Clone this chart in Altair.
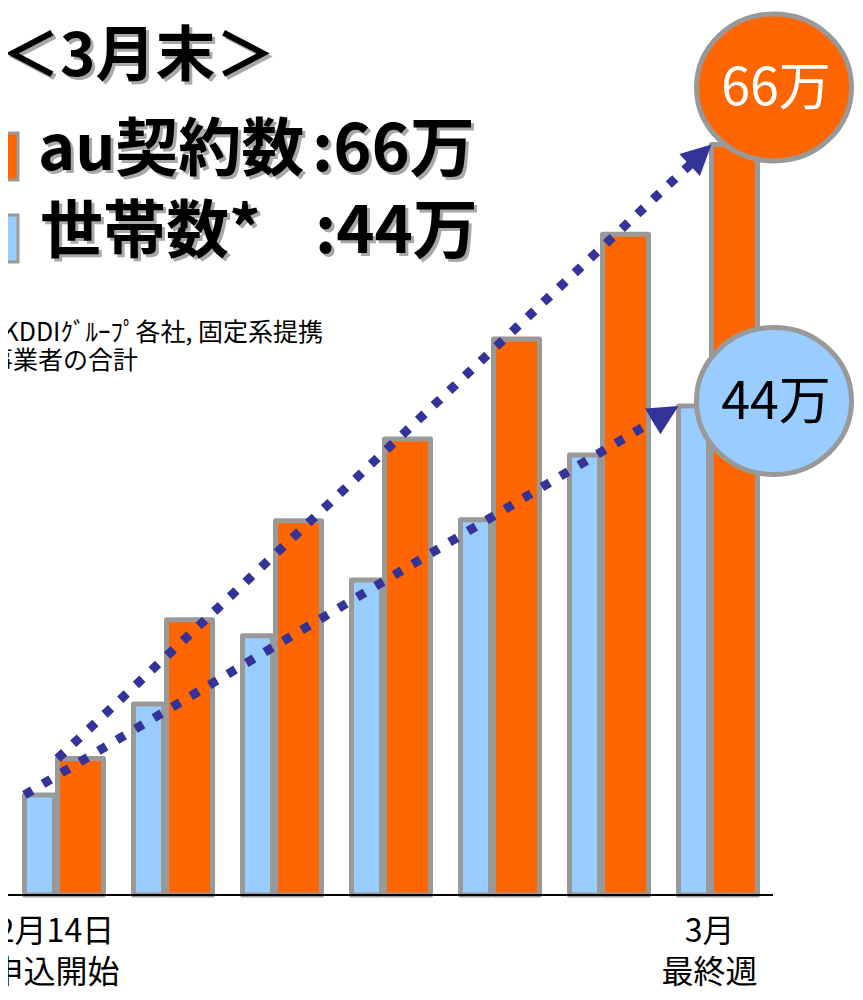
import altair as alt
import pandas as pd

# ---------------- data ----------------
weeks = [0, 1, 2, 3, 4, 5, 6]
au_contracts = [12.0, 24.2, 32.9, 40.1, 48.9, 58.1, 66.0]   # 万
households = [8.8, 16.8, 22.8, 27.7, 33.0, 38.7, 43.0]      # 万
x_label_weeks = [0, 6]
x_label_texts = ["2月14日\n申込開始", "3月\n最終週"]
title_text = "＜3月末＞"
legend_names = ["au契約数", "世帯数*"]
legend_values = [":66万", ":44万"]
callouts = ["66万", "44万"]
footnote = ["*KDDIｸﾞﾙｰﾌﾟ各社, 固定系提携", "事業者の合計"]

# ---------------- styling ----------------
ORANGE = "#FF6600"
BLUE = "#99CCFF"
GRAY = "#999999"
NAVY = "#333399"
SHADOW = "#A8A8A8"
FONT = "Noto Sans CJK JP"

k = 0.5523
r = 0.948
ELLIPSE = (f"M1,0C1,{k*r:.4f} {k},{r} 0,{r}C{-k},{r} -1,{k*r:.4f} -1,0"
           f"C-1,{-k*r:.4f} {-k},{-r} 0,{-r}C{k},{-r} 1,{-k*r:.4f} 1,0Z")
TRI = "M0,0L-1,2L1,2Z"

xs = alt.Scale(domain=[-0.5, 6.5], range=[-2, 761], nice=False, zero=False, padding=0)
ys = alt.Scale(domain=[0, 78], nice=False, zero=True, padding=0)

df = pd.DataFrame({"week": weeks, "au": au_contracts, "hh": households})
X = alt.X("week:Q", scale=xs, axis=None)

blue_bars = alt.Chart(df).mark_bar(
    width=30, xOffset=-21, color=BLUE, stroke=GRAY, strokeWidth=5, strokeJoin="round"
).encode(x=X, y=alt.Y("hh:Q", scale=ys, axis=None))

orange_bars = alt.Chart(df).mark_bar(
    width=46, xOffset=20, color=ORANGE, stroke=GRAY, strokeWidth=5, strokeJoin="round"
).encode(x=X, y=alt.Y("au:Q", scale=ys, axis=None))

baseline = alt.Chart(pd.DataFrame({"v": [0]})).mark_rule(color="black", strokeWidth=2).encode(
    y=alt.Y("v:Q", scale=ys, axis=None), x=alt.value(0), x2=alt.value(765)
)

def arrow(values, off, angle, back_dx, back_dy):
    a = pd.DataFrame({"x0": [weeks[0]], "v0": [values[0]], "x1": [weeks[-1]], "v1": [values[-1]]})
    line = alt.Chart(a).mark_rule(
        color=NAVY, strokeWidth=9, strokeDash=[9, 12.5], strokeCap="butt",
        xOffset=off, x2Offset=off + back_dx, y2Offset=back_dy
    ).encode(
        x=alt.X("x0:Q", scale=xs, axis=None), x2="x1:Q",
        y=alt.Y("v0:Q", scale=ys, axis=None), y2="v1:Q"
    )
    head = alt.Chart(a).mark_point(
        shape=TRI, size=900, filled=True, color=NAVY, opacity=1, angle=angle, xOffset=off
    ).encode(x=alt.X("x1:Q", scale=xs, axis=None), y=alt.Y("v1:Q", scale=ys, axis=None))
    return line + head

arrow_au = arrow(au_contracts, -3, 46.8, -7.3, 6.85)
arrow_hh = arrow(households, -36, 59.25, -8.6, 5.1)

def callout(value, text, fill, tcolor, dx, dy):
    c = pd.DataFrame({"week": [weeks[-1]], "v": [value], "t": [text]})
    ell = alt.Chart(c).mark_point(
        shape=ELLIPSE, size=24025, filled=True, fill=fill, stroke=GRAY, strokeWidth=5,
        opacity=1, xOffset=dx, yOffset=dy
    ).encode(x=alt.X("week:Q", scale=xs, axis=None), y=alt.Y("v:Q", scale=ys, axis=None))
    txt = alt.Chart(c).mark_text(
        font=FONT, fontSize=52, color=tcolor, xOffset=dx + 2, yOffset=dy + 2, align="center",
        baseline="middle"
    ).encode(x=alt.X("week:Q", scale=xs, axis=None), y=alt.Y("v:Q", scale=ys, axis=None), text="t:N")
    return ell + txt

call_au = callout(au_contracts[-1], callouts[0], ORANGE, "white", 59.5, -57)
call_hh = callout(households[-1], callouts[1], BLUE, "black", 59.5, -5)

lab_df = pd.DataFrame({"week": x_label_weeks, "t": x_label_texts})
x_labels = alt.Chart(lab_df).mark_text(
    font=FONT, fontSize=32, lineBreak="\n", lineHeight=41, align="center", baseline="top",
    dx=-5, color="black"
).encode(x=alt.X("week:Q", scale=xs, axis=None), y=alt.value(909), text="t:N")

def label(text, x, y, size, weight="bold", align="left", shadow=True, color="black"):
    d = pd.DataFrame({"t": [text]})
    layers = []
    if shadow:
        layers.append(alt.Chart(d).mark_text(
            font=FONT, fontSize=size, fontWeight=weight, align=align, baseline="middle",
            color=SHADOW, dx=3, dy=3
        ).encode(x=alt.value(x), y=alt.value(y), text="t:N"))
    layers.append(alt.Chart(d).mark_text(
        font=FONT, fontSize=size, fontWeight=weight, align=align, baseline="middle", color=color
    ).encode(x=alt.value(x), y=alt.value(y), text="t:N"))
    return alt.layer(*layers)

def swatch(color, y):
    d = pd.DataFrame({"c": [color]})
    return alt.Chart(d).mark_point(
        shape="square", size=2209, filled=True, fill=color, stroke=GRAY, strokeWidth=3, opacity=1
    ).encode(x=alt.value(-13.5), y=alt.value(y))

texts = alt.layer(
    label(title_text, -8, 50, 60),
    swatch(ORANGE, 148.5),
    swatch(BLUE, 230.5),
    label(legend_names[0], 30, 143, 63),
    label(legend_values[0], 304, 143, 65),
    label(legend_names[1], 32, 225, 63),
    label(legend_values[1], 307, 225, 65),
    label(footnote[0], 315, 325, 25, weight="normal", align="right", shadow=False),
    label(footnote[1], 130, 353, 25, weight="normal", align="right", shadow=False),
)

chart = alt.layer(
    blue_bars, orange_bars, baseline, arrow_au, arrow_hh, call_au, call_hh, x_labels, texts
).properties(
    width=847, height=887,
    padding={"left": 0, "right": 0, "top": 0, "bottom": 97},
    autosize=alt.AutoSizeParams(type="none"),
).configure_view(stroke=None)

chart.save("out.html", embed_options={"renderer": "svg", "actions": False})
